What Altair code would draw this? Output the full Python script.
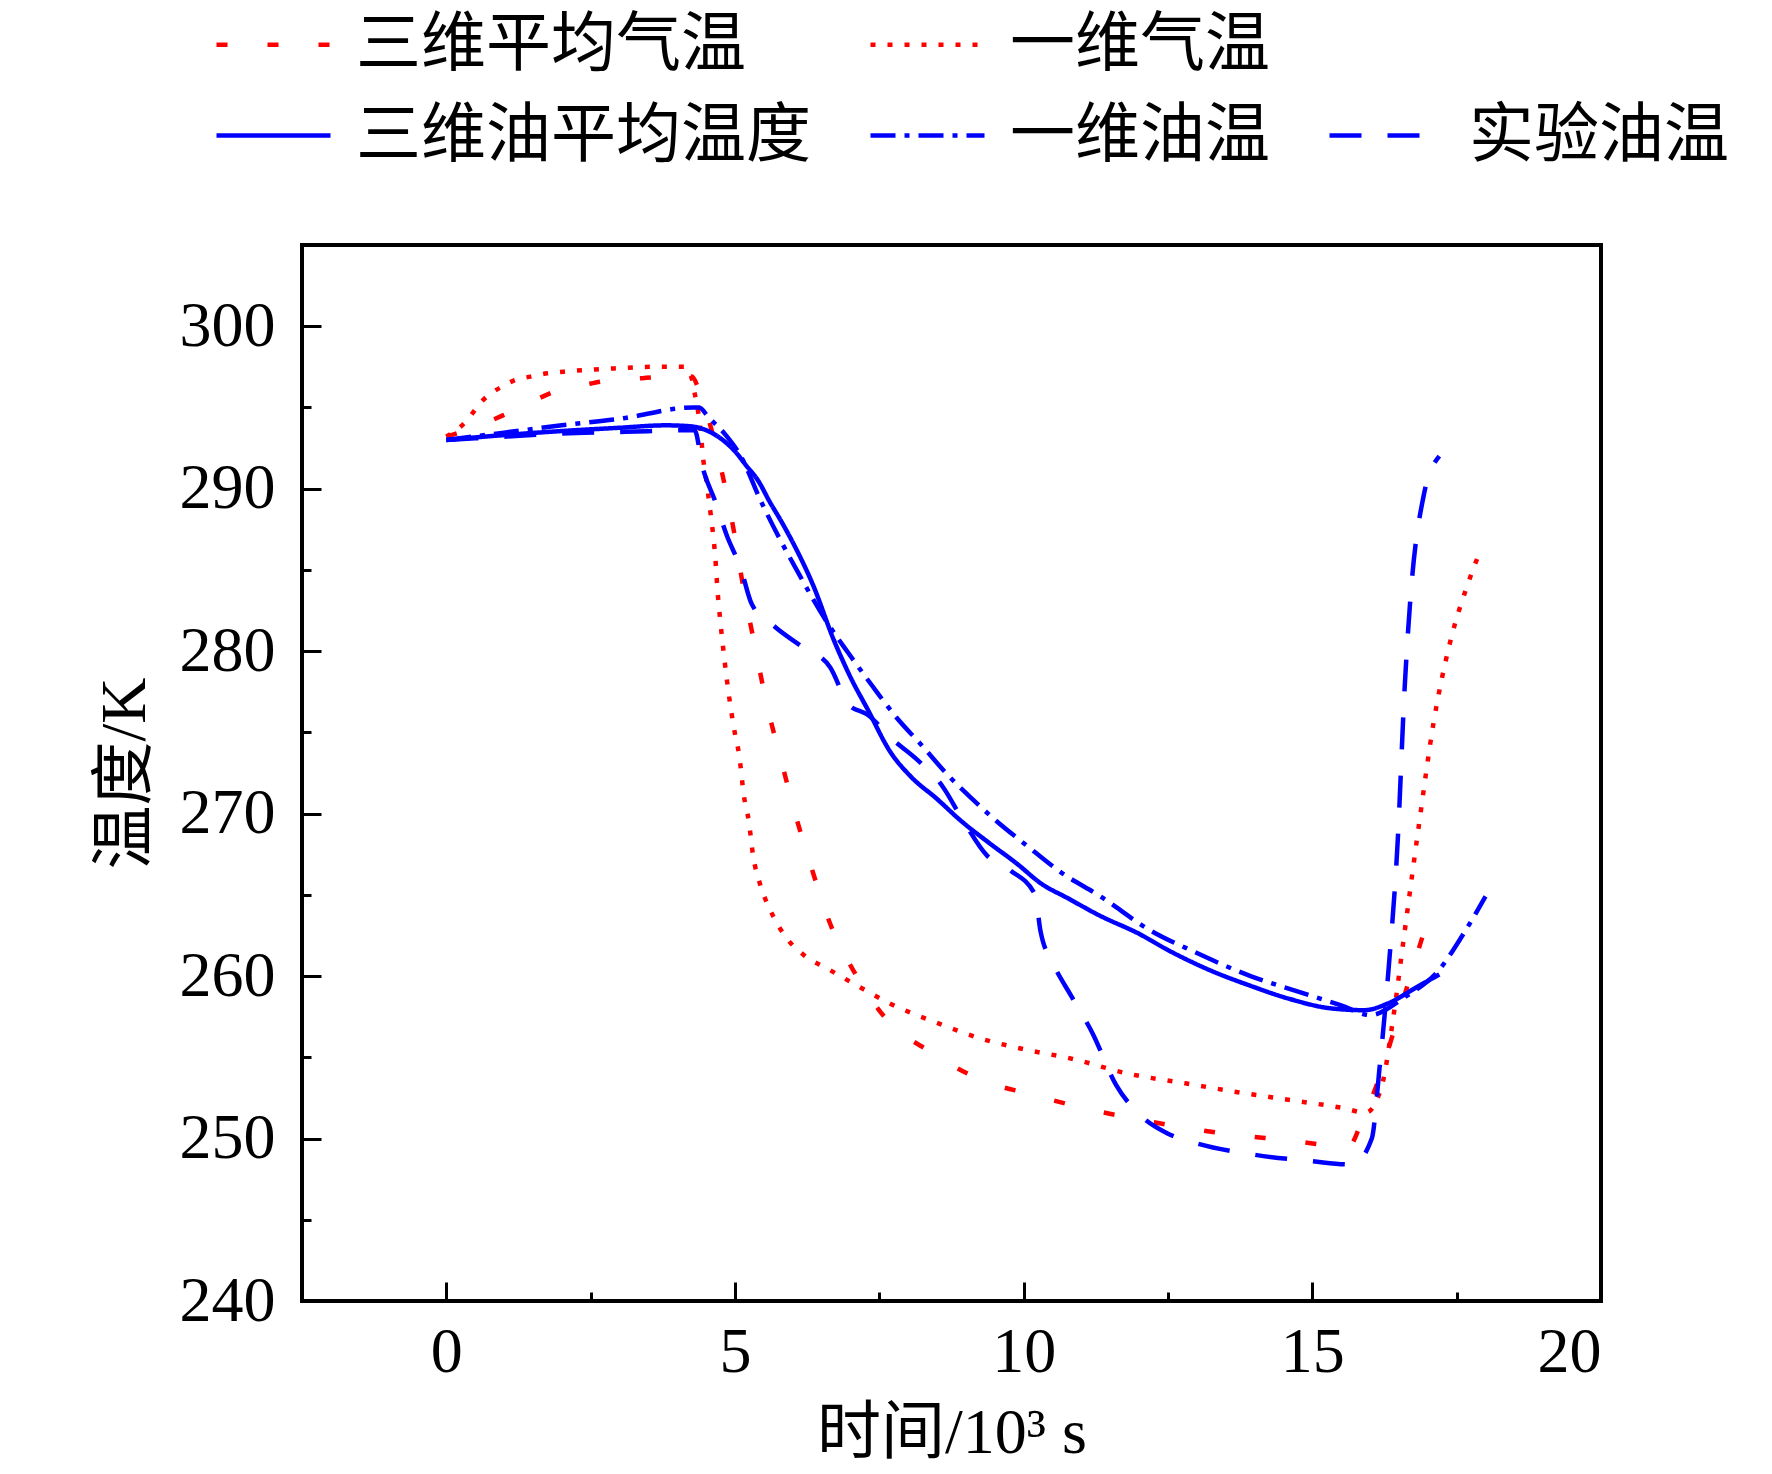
import altair as alt
import pandas as pd

FONT = "Liberation Serif, Noto Sans CJK SC"

# 三维平均气温
t_air3d = [0, 0.5, 0.97, 1.45, 1.89, 2.4, 2.88, 3.4, 3.85, 4.25,
           4.4, 4.54, 4.78, 4.98, 5.15, 5.34, 5.54, 5.79, 6.05, 6.33,
           6.64, 7.09, 7.61, 8.4, 9.27, 10.15, 11.13, 12.11, 13.28, 14.56,
           15.63, 15.83, 16.22, 16.51, 16.81, 17.1]
v_air3d = [293.2, 293.8, 294.5, 295.3, 296.0, 296.4, 296.7, 296.8, 296.9, 296.9,
           295.8, 294.3, 290.9, 287.4, 283.8, 280.4, 276.9, 273.4, 269.9, 266.6,
           263.3, 260.1, 257.4, 255.3, 253.6, 252.7, 251.8, 251.1, 250.4, 249.9,
           249.5, 250.8, 254.4, 257.8, 261.3, 264.6]

# 一维气温
t_air1d = [0, 0.33, 0.62, 0.97, 1.2, 1.46, 1.75, 2.03, 2.36, 2.9,
           3.54, 4.12, 4.25, 4.3, 4.35, 4.4, 4.45, 4.5, 4.54, 4.58,
           4.66, 4.70, 4.75, 4.82, 4.89, 4.98, 5.08, 5.15, 5.24, 5.31,
           5.43, 5.53, 5.66, 5.88, 6.19, 6.63, 7.12, 7.69, 8.44, 9.31,
           10.0, 10.85, 11.8, 12.8, 13.8, 14.75, 15.5, 15.93, 16.2, 16.4,
           16.59, 16.85, 17.1, 17.39, 17.68, 17.9]
v_air1d = [293.2, 294.1, 295.4, 296.3, 296.7, 296.9, 297.1, 297.2, 297.3, 297.4,
           297.5, 297.5, 296.8, 295.9, 295.0, 293.7, 291.8, 290.6, 289.5, 288.4,
           285.7, 283.6, 281.7, 279.4, 277.4, 275.3, 273.4, 271.2, 269.5, 267.5,
           265.7, 264.7, 263.7, 262.4, 261.3, 260.4, 259.4, 258.3, 257.2, 256.1,
           255.5, 254.9, 254.0, 253.4, 252.8, 252.3, 251.9, 251.6, 253.2, 257.4,
           262.5, 269.4, 275.6, 280.6, 284.0, 286.1]

# 三维油平均温度
t_oil3d = [0, 1, 2, 3, 3.8, 4.2, 4.5, 4.75, 5.0, 5.2,
           5.4, 5.6, 5.8, 6.0, 6.36, 6.71, 7.0, 7.3, 7.69, 8.04,
           8.5, 8.9, 9.4, 9.89, 10.3, 10.76, 11.33, 12.0, 12.5, 13.2,
           13.93, 14.6, 15.35, 15.9, 16.3, 16.8, 17.2]
v_oil3d = [293.0, 293.3, 293.55, 293.75, 293.9, 293.85, 293.6, 293.1, 292.3, 291.4,
           290.5, 289.2, 288.0, 286.7, 284.0, 280.7, 278.4, 276.4, 273.8, 272.3,
           270.9, 269.6, 268.2, 266.9, 265.7, 264.8, 263.7, 262.6, 261.6, 260.4,
           259.4, 258.6, 258.0, 257.9, 258.3, 259.3, 260.1]

# 一维油温
t_oil1d = [0, 1, 2, 3, 4.28, 4.38, 4.54, 4.84, 5.1, 5.44,
           6.13, 6.59, 6.96, 7.37, 7.8, 8.21, 8.68, 9.08, 9.51, 10.03,
           10.64, 11.33, 12.2, 12.95, 13.93, 14.7, 15.5, 16.0, 16.6, 17.2,
           17.6, 18.0]
v_oil1d = [293.0, 293.45, 293.9, 294.3, 295.0, 295.0, 294.4, 293.3, 292.0, 289.3,
           284.6, 281.8, 279.9, 277.9, 275.9, 274.3, 272.4, 271.0, 269.6, 268.1,
           266.4, 264.9, 262.8, 261.5, 260.0, 259.1, 258.2, 257.6, 258.7, 260.4,
           262.5, 264.9]

# 实验油温
t_exp = [0, 1, 2, 3.1, 4.3, 4.44, 4.66, 4.86, 5.1, 5.29,
         5.69, 6.15, 6.65, 6.97, 7.29, 7.75, 8.13, 8.59, 8.93, 9.37,
         9.77, 10.2, 10.29, 10.52, 10.82, 11.19, 11.6, 12.0, 12.5, 13.0,
         14.0, 15.0, 15.7, 16.03, 16.16, 16.32, 16.48, 16.6, 16.7, 16.93,
         17.2]
v_exp = [293.0, 293.2, 293.4, 293.5, 293.6, 291.3, 289.2, 287.1, 285.1, 282.9,
         281.5, 280.3, 279.0, 276.7, 276.1, 274.5, 273.4, 271.7, 269.7, 267.4,
         266.5, 265.0, 262.8, 260.7, 258.8, 256.5, 253.3, 251.5, 250.3, 249.7,
         249.0, 248.6, 248.4, 250.0, 254.2, 260.4, 268.4, 277.8, 283.3, 289.6,
         292.0]

# legend order (blank slot keeps the 2 + 3 layout)
series_order = ["三维平均气温", "一维气温", " ", "三维油平均温度", "一维油温", "实验油温"]
series_colors = ["#ff0000", "#ff0000", "transparent", "#0000ff", "#0000ff", "#0000ff"]
series_dashes = [[11, 40], [5, 12], [1, 0], [1, 0], [25, 9, 5, 9], [32, 26]]

x_major = [0, 5, 10, 15, 20]
x_minor = [2.5, 7.5, 12.5, 17.5]
y_major = [240, 250, 260, 270, 280, 290, 300]
y_minor = [245, 255, 265, 275, 285, 295]

rows = []
for name, ts, vs in [
    ("三维平均气温", t_air3d, v_air3d),
    ("一维气温", t_air1d, v_air1d),
    ("三维油平均温度", t_oil3d, v_oil3d),
    ("一维油温", t_oil1d, v_oil1d),
    ("实验油温", t_exp, v_exp),
]:
    for t, v in zip(ts, vs):
        rows.append({"series": name, "t": t, "T": v})
df = pd.DataFrame(rows)

x_scale = alt.Scale(domain=[-2.5, 20], nice=False, zero=False)
y_scale = alt.Scale(domain=[240, 305], nice=False, zero=False)

legend = alt.Legend(
    title=None, orient="none", legendX=-61, legendY=-233,
    direction="horizontal", columns=3, columnPadding=49, rowPadding=25,
    symbolType="M-2,0H2", symbolSize=3249, symbolStrokeWidth=4.5,
    labelFont=FONT, labelFontSize=65, labelColor="black",
    labelOffset=50, labelLimit=700, padding=0,
)
color = alt.Color("series:N", scale=alt.Scale(domain=series_order, range=series_colors), legend=legend)
dash = alt.StrokeDash("series:N", scale=alt.Scale(domain=series_order, range=series_dashes), legend=legend)

label_x = alt.Axis(orient="bottom", values=x_major, ticks=False, tickSize=0, domain=False, grid=False,
                   labelFont=FONT, labelFontSize=64, labelColor="black", labelPadding=19,
                   title="时间/10³ s", titleFont=FONT, titleFontSize=64, titleFontWeight="normal",
                   titleColor="black", titlePadding=17, format="d")
label_y = alt.Axis(orient="left", values=y_major, ticks=False, tickSize=0, domain=False, grid=False,
                   labelFont=FONT, labelFontSize=64, labelColor="black", labelPadding=27,
                   title="温度/K", titleFont=FONT, titleFontSize=64, titleFontWeight="normal",
                   titleColor="black", titlePadding=22, format="d")


def tick_axis(orient, values, size):
    # ticks pointing into the plot: shift the axis inward by the tick length
    return alt.Axis(orient=orient, values=values, labels=False, domain=False, grid=False,
                    tickSize=size, tickWidth=3, tickColor="black", offset=-size, title=None)


def layer(names, x_axis, y_axis):
    return alt.Chart(df).transform_filter(
        alt.FieldOneOfPredicate(field="series", oneOf=names)
    ).mark_line(strokeWidth=4.5, interpolate="monotone").encode(
        x=alt.X("t:Q", scale=x_scale, axis=x_axis),
        y=alt.Y("T:Q", scale=y_scale, axis=y_axis),
        color=color,
        strokeDash=dash,
    )


chart = alt.layer(
    layer(["三维平均气温", "一维气温"], label_x, label_y),
    layer(["三维油平均温度", "一维油温"], tick_axis("bottom", x_major, 19), tick_axis("left", y_major, 19)),
    layer(["实验油温"], tick_axis("bottom", x_minor, 9), tick_axis("left", y_minor, 9)),
).resolve_axis(
    x="independent", y="independent"
).properties(
    width=1299, height=1056,
    autosize=alt.AutoSizeParams(type="none"),
    padding={"left": 294, "top": 237, "right": 163, "bottom": 165},
    background="white",
).configure_view(
    stroke="black", strokeWidth=4
)

chart.save("out.html", embed_options={"renderer": "svg", "actions": False})
